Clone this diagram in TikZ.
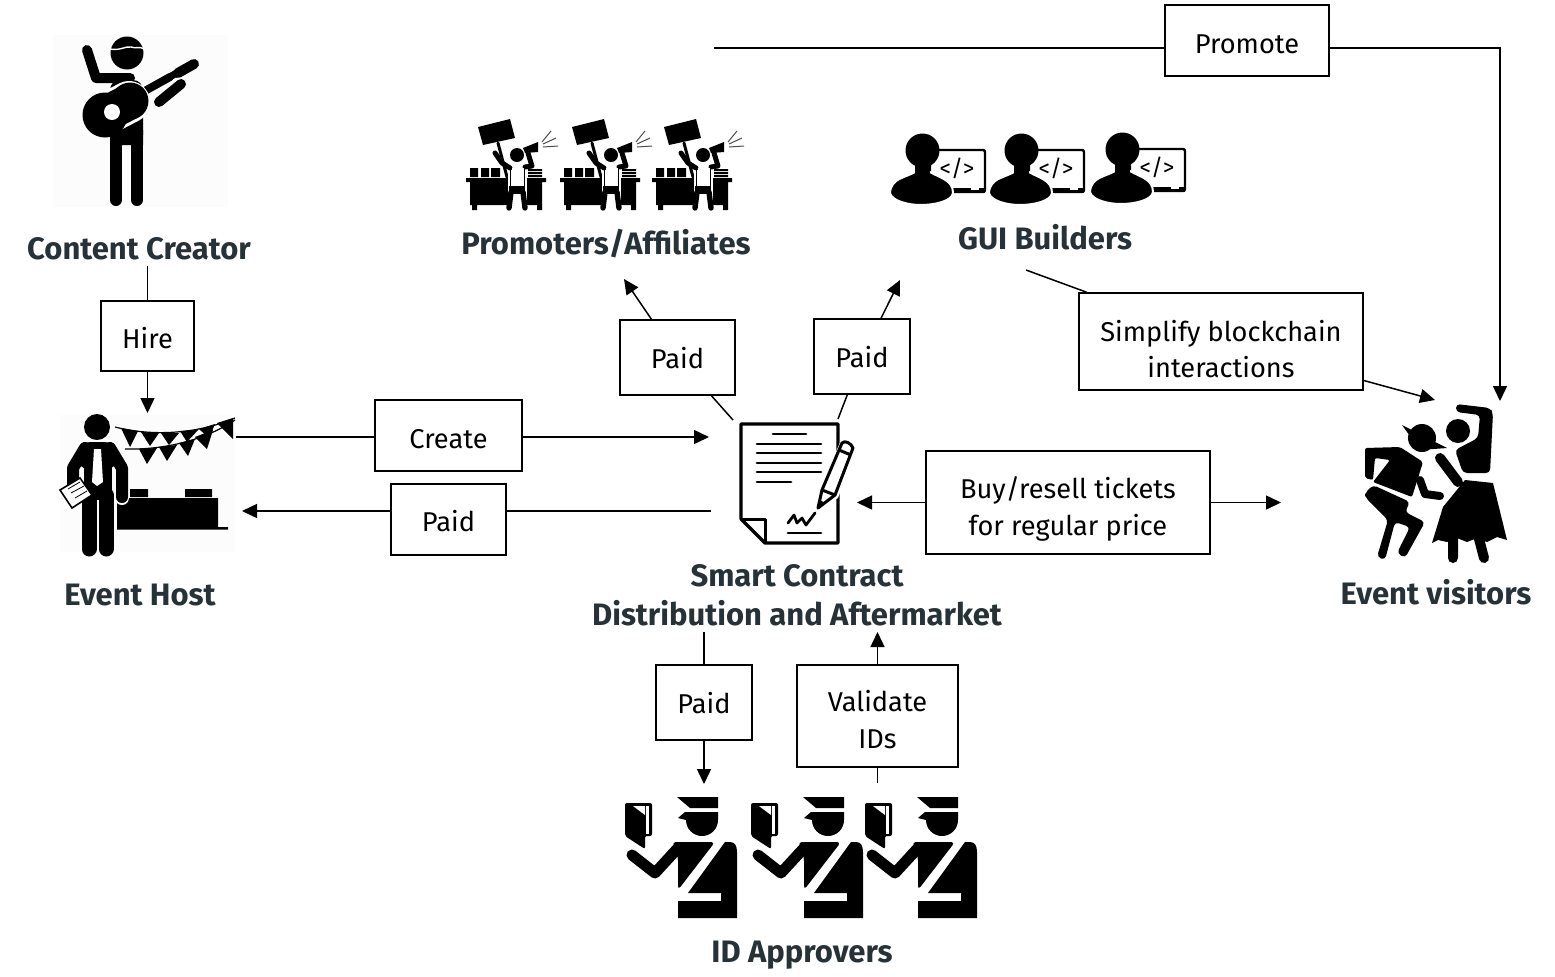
\documentclass[tikz,border=0pt]{standalone}
\usepackage{fontspec}
\setmainfont{Fira Sans}
\usetikzlibrary{arrows.meta,positioning}

\definecolor{titleink}{HTML}{263238}

\tikzset{
	lbl/.style={draw, line width=0.8pt, align=center, inner sep=0pt, text height=10pt+#1, text depth=10pt-#1, font=\fontsize{13.6}{18.3}\selectfont},
	ttl/.style={align=center, inner sep=0pt, text=titleink, font=\fontsize{15.5}{19.5}\selectfont\bfseries},
	flow/.style={line width=0.75pt},
	arr/.style={line width=0.75pt, -{Triangle[length=7.5pt,width=7pt]}},
	limb/.style={line width=#1, line cap=round, line join=round},
	halo/.style={draw=white, line width=1pt, line join=round},
	% three repeated icons
	protester/.pic={
		\fill (478,127) -- (510,119) -- (515,138) -- (483,145) -- cycle;
		\draw[limb=1.5pt] (498,143) -- (507,177);
		\fill (466,178) rectangle (546,182) (470,182) rectangle (542,205);
		\fill (472,205) rectangle (477,210) (537,205) rectangle (542,210);
		\fill (470,168) rectangle (478,177) (481,168) rectangle (489,177) (491,168) rectangle (500,177);
		\fill (528,169) rectangle (542,171) (528,172) rectangle (542,174) (528,175) rectangle (542,177);
		\fill[white] (508,164) rectangle (527,211);
		\draw[limb=2.7pt] (511,192) -- (509,208) (523,192) -- (525,208);
		\fill (509,186) rectangle (525,194);
		\draw[limb=2.5pt] (495,153) -- (502,163) -- (510,168) (528,153) -- (532,166) -- (525,167);
		\fill[white] (511.5,168) rectangle (523.5,186);
		\draw[line width=0.5pt] (510.5,167) -- (510.5,186) (524.5,167) -- (524.5,186);
		\fill (517,155) circle (7);
		\fill (523,148) -- (538,142) -- (538,152) -- (525,153) -- cycle;
		\draw[line width=0.5pt, black!70] (542,142) -- (551,131) (543,144) -- (556,138) (543,147) -- (558,146);
	},
	builder/.pic={
		\draw[line width=1.2pt, rounded corners=1pt, fill=white] (930,150) rectangle (985,192);
		\fill (935,188) rectangle (985,193);
		\fill[white] (971,187.5) rectangle (979,189.5);
		\node[font=\fontsize{11.5}{12}\selectfont, inner sep=0pt] (-code) at (957,168.5) {</>};
		\fill[halo, fill=black] (915,172) .. controls (905,178) and (891,178) .. (890,193) .. controls (892,201) and (908,205) .. (921,205) .. controls (935,205) and (952,201) .. (953,193) .. controls (953,180) and (940,178) .. (930,172) -- cycle;
		\fill (922.5,150.5) ellipse (17 and 17);
		\fill (915,160) rectangle (930,176);
	},
	officer/.pic={
		\fill (677,797) -- (718,797) -- (718,808) -- (690,808) -- cycle;
		\fill (678,818) -- (685,812) -- (718,812) -- (718,820) arc (0:180:16 and 16) -- cycle;
		\fill[rounded corners=1pt] (625,803) -- (652,803) -- (652,836) -- (645,836) -- (645,849) -- (625,836) -- cycle;
		\fill[white] (633,806) -- (645,806) -- (645,815) -- cycle;
		\fill[white] (646,806) rectangle (649,834);
		\draw[limb=5.5pt] (632,855) -- (655,873) -- (678,848);
		\fill[rounded corners=2pt] (672,842) -- (715,842) -- (678,890) -- (678,857) -- cycle;
		\fill (725,842) -- (730,842) .. controls (735,842) and (737,846) .. (737,852) -- (737,918) -- (678,918) -- (678,901) -- (721,901) -- (721,893) -- (688,893) -- cycle;
	},
}

\begin{document}
\begin{tikzpicture}[x=0.5pt, y=-0.5pt]
	\useasboundingbox (0,0) rectangle (1555,976);

	% guitar player
	\fill[black!1] (53,35) rectangle (228,207);
	\fill (127,53) circle (16.5);
	\draw[white, line width=0.7pt] (110,49) .. controls (120,51) and (125,46) .. (131,47) .. controls (136,49) and (140,46) .. (144,49);
	\draw[limb=5pt] (87,50) -- (96,78) -- (130,78);
	\fill[rounded corners=5pt] (110,80) rectangle (143,145);
	\draw[limb=6pt] (116,140) -- (116,200) (137,140) -- (137,200);
	\fill (110,130) rectangle (123,145) (131,130) rectangle (143,145);
	\draw[limb=4pt] (143,92) -- (170,77);
	\draw[limb=5pt] (178,73) -- (194,64);
	\draw[limb=3.5pt] (168,78) -- (180,71);
	\draw[limb=5pt] (159,102) -- (181,84);
	\draw[white, line width=21pt, line cap=round] (106,114) -- (129,102);
	\draw[limb=18pt] (106,114) -- (129,102);
	\fill (105,115) circle (22.5) (130,101) circle (18.5);
	\fill[white] (112,112) circle (8);

	% host with table
	\fill[black!1] (60,415) rectangle (235,552);
	\fill (117,498) rectangle (218,528) (117,527) rectangle (228,529.5);
	\fill (130,489) rectangle (148,497) (185,489) rectangle (212,497);
	\draw[white, line width=7pt, line cap=round] (122,470) -- (122,498);
	\draw[limb=6pt] (85,448) -- (73,468) -- (73,495) (110,448) -- (122,468) -- (122,497);
	\fill[rounded corners=6pt] (78,442) rectangle (117,470);
	\fill (84,455) rectangle (112,500);
	\draw[limb=7.5pt] (89,495) -- (89,549) (106,495) -- (106,549);
	\fill[white] (94,449) -- (101,449) -- (103,482) -- (97,486) -- (92,482) -- cycle;
	\fill (97,427) circle (13);
	\draw[fill=white, line width=0.8pt] (60,490) -- (80,478) -- (92,495) -- (72,508) -- cycle;
	\draw[line width=0.4pt] (68,489) -- (80,482) (71,493) -- (84,486) (75,498) -- (87,491);
	\draw[line width=0.6pt] (115,427) .. controls (150,436) and (195,435) .. (235,418);
	\draw[line width=0.6pt] (125,449) .. controls (165,450) and (205,440) .. (235,420);
	\foreach \ax/\ay/\bx/\by/\tx/\ty in {121/428/138/431/130/447, 141/432/159/433/150/446, 161/433/179/433/169/445, 180/431/198/430/187/442, 199/429/215/424/209/438, 217/423/233/418/233/439, 139/449/157/448/147/464, 159/447/177/445/167/461, 179/443/195/439/188/456, 195/437/213/430/207/449}
		\fill (\ax,\ay) -- (\bx,\by) -- (\tx,\ty) -- cycle;

	% promoters, builders
	\pic (prom1) at (0,0) {protester};
	\pic (prom2) at (94,0) {protester};
	\pic (prom3) at (186,0) {protester};
	\pic (gui1) at (0,0) {builder};
	\pic (gui2) at (99,0) {builder};
	\pic (gui3) at (200,-1) {builder};

	% contract
	\draw[line width=1.6pt, line join=round] (741,424) -- (838,424) -- (838,543) -- (765,543) -- (741,519) -- cycle;
	\draw[line width=1.5pt, line join=round] (741,519) -- (765,519) -- (765,543);
	\draw[line width=1.4pt, line cap=round] (773,434) -- (806,434) (757,444) -- (821,444) (757,453) -- (821,453) (757,463) -- (821,463) (757,472) -- (821,472) (757,482) -- (791,482) (788,533) -- (821,533);
	\draw[line width=1.4pt, line join=round, line cap=round] (788,523) -- (794,515) -- (797,523) -- (802,518) -- (806,525) -- (815,513);
	\fill[white] (816,510) -- (820,488) -- (842,438) -- (858,446) -- (838,498) -- cycle;
	\draw[line width=1.5pt, line join=round] (818,508) -- (822,490) -- (842,443) .. controls (845,440) and (851,443) .. (853,448) -- (835,495) -- cycle;
	\draw[line width=1.5pt] (822,490) -- (835,495) (839,450) -- (851,455);
	\fill (818,509) -- (820,500) -- (825,503) -- cycle;

	% dancers
	\fill[rounded corners=2pt] (1456,404) -- (1490,408) -- (1493,413) -- (1490,473) -- (1463,473) -- (1455,450) -- (1478,438) -- (1480,415) -- (1456,412) -- cycle;
	\fill (1458,431) circle (12);
	\draw[limb=5pt] (1440,458) -- (1458,482);
	\fill (1465,480) -- (1493,483) -- (1507,540) -- (1497,537) -- (1487,542) -- (1477,538) -- (1467,542) -- (1457,538) -- (1447,542) -- (1438,540) -- (1432,543) -- (1443,507) -- cycle;
	\draw[limb=5pt] (1453,535) -- (1453,558) (1478,535) -- (1484,558);
	\fill[rounded corners=1pt] (1365,448) -- (1400,447) -- (1423,462) -- (1412,497) -- (1373,482) -- (1390,460) -- (1375,458) -- (1373,480) -- (1365,478) -- cycle;
	\fill (1422,438) circle (14) (1402,425) -- (1447,448) -- (1420,450) -- cycle;
	\draw[limb=4pt] (1420,480) -- (1425,494) -- (1440,496);
	\fill[rounded corners=2pt] (1365,493) -- (1373,485) -- (1410,502) -- (1405,512) -- (1425,522) -- (1405,558) -- (1397,553) -- (1410,527) -- (1395,522) -- (1385,560) -- (1377,557) -- (1388,520) -- (1365,497) -- cycle;

	% officers
	\pic (appr1) at (0,0) {officer};
	\pic (appr2) at (126,0) {officer};
	\pic (appr3) at (240,0) {officer};

	% titles
	\node[ttl] (creatorttl) at (139,249) {Content Creator};
	\node[ttl] (hostttl) at (140,595) {Event Host};
	\node[ttl] (promttl) at (606,244) {Promoters/Affiliates};
	\node[ttl] (guittl) at (1045,237) {GUI Builders};
	\node[ttl] (contractttl) at (797,595) {Smart Contract\\Distribution and Aftermarket};
	\node[ttl] (visitorttl) at (1436,592) {Event visitors};
	\node[ttl] (apprttl) at (802,955) {ID Approvers};

	% boxes
	\node[lbl=6.5pt, minimum width=82pt, minimum height=35.5pt] (promote) at (1247,40.5) {Promote};
	\node[lbl=6pt, minimum width=46.5pt, minimum height=35pt] (hire) at (147.5,336) {Hire};
	\node[lbl=5.25pt, minimum width=57.5pt, minimum height=37.5pt] (paidprom) at (677.5,357.5) {Paid};
	\node[lbl=5.25pt, minimum width=48pt, minimum height=37.5pt] (paidgui) at (862,356.5) {Paid};
	\node[lbl=26.25pt, minimum width=142pt, minimum height=48.5pt] (simplify) at (1221,341.5) {Simplify blockchain\\interactions};
	\node[lbl=6.25pt, minimum width=73.5pt, minimum height=35.5pt] (create) at (448.5,435.5) {Create};
	\node[lbl=5.75pt, minimum width=57.5pt, minimum height=35.5pt] (paidhost) at (448.5,519.5) {Paid};
	\node[lbl=22.75pt, minimum width=142pt, minimum height=51.5pt] (resell) at (1068,502.5) {Buy/resell tickets\\for regular price};
	\node[lbl=5.25pt, minimum width=48pt, minimum height=37.5pt] (paidappr) at (704,702.5) {Paid};
	\node[lbl=22.5pt, minimum width=80.5pt, minimum height=51pt] (validate) at (877.5,716) {Validate\\IDs};

	% free ends
	\coordinate (promstart) at (714,48);
	\coordinate (promcorner) at (1500,48);
	\coordinate (visitortop) at (1500,401);
	\coordinate (creatorfoot) at (147.5,266);
	\coordinate (hosttop) at (147.5,413);
	\coordinate (hostout) at (236,437);
	\coordinate (contractin) at (709,437);
	\coordinate (contractout) at (711,511);
	\coordinate (hostin) at (242,511);
	\coordinate (contractnw) at (733,420);
	\coordinate (promfoot) at (624,279);
	\coordinate (contractne) at (838,419);
	\coordinate (guifoot) at (900,280);
	\coordinate (guiout) at (1026,270);
	\coordinate (visitorin) at (1435,400);
	\coordinate (contractright) at (857,502.5);
	\coordinate (visitorleft) at (1281,502.5);
	\coordinate (ttlfootl) at (704,632);
	\coordinate (apprtopl) at (704,784);
	\coordinate (ttlfootr) at (877.5,632);
	\coordinate (apprtopr) at (877.5,783);

	% connectors
	\draw[flow] (promstart) -- (promstart -| promote.west);
	\draw[arr] (promstart -| promote.east) -- (promcorner) -- (visitortop);
	\draw[flow] (creatorfoot) -- (hire);
	\draw[arr] (hire) -- (hosttop);
	\draw[flow] (hostout) -- (hostout -| create.west);
	\draw[arr] (hostout -| create.east) -- (contractin);
	\draw[flow] (contractout) -- (contractout -| paidhost.east);
	\draw[arr] (contractout -| paidhost.west) -- (hostin);
	\draw[flow] (contractnw) -- (paidprom);
	\draw[arr] (paidprom) -- (promfoot);
	\draw[flow] (contractne) -- (paidgui);
	\draw[arr] (paidgui) -- (guifoot);
	\draw[flow] (guiout) -- (simplify);
	\draw[arr] (simplify) -- (visitorin);
	\draw[arr] (resell) -- (contractright);
	\draw[arr] (resell) -- (visitorleft);
	\draw[flow] (ttlfootl) -- (paidappr);
	\draw[arr] (paidappr) -- (apprtopl);
	\draw[arr] (validate) -- (ttlfootr);
	\draw[flow] (validate) -- (apprtopr);
\end{tikzpicture}
\end{document}
